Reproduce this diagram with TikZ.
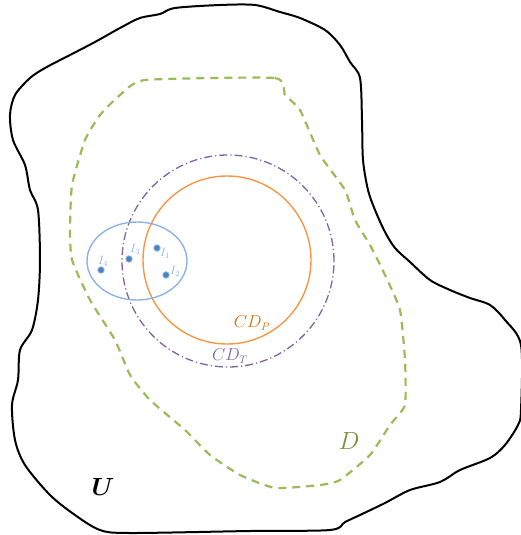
\documentclass[tikz,border=0pt]{standalone}
\usepackage{amsmath,amsbsy}
\usetikzlibrary{calc}
\definecolor{ucol}{RGB}{0,0,0}
\definecolor{dgreen}{RGB}{155,187,89}
\definecolor{dlab}{RGB}{118,146,60}
\definecolor{tpurple}{RGB}{128,100,162}
\definecolor{porange}{RGB}{247,150,70}
\definecolor{plab}{RGB}{228,108,10}
\definecolor{iblue}{RGB}{141,180,226}
\definecolor{idot}{RGB}{79,129,189}
\tikzset{
  ipt/.style={circle,fill=idot,draw=iblue,line width=0.8pt,inner sep=0pt,minimum size=6.5pt},
  ilab/.style={text=iblue,font=\fontsize{12}{12}\selectfont,inner sep=0pt},
}
\begin{document}
\begin{tikzpicture}[x=1pt,y=-1pt]
\useasboundingbox (0,0) rectangle (521,535);
% universe U
\draw[line width=2pt,ucol] plot[smooth cycle,tension=0.5] coordinates {
(175,8) (220,5) (255,5) (280,12) (300,18) (325,30) (340,45) (350,62) (360,78)
(362,120) (363,160) (368,190) (375,210) (385,232) (395,248) (410,262) (430,280)
(450,290) (470,298) (490,305) (505,320) (521,345) (521,410) (518,425) (505,445)
(490,458) (460,470) (440,482) (410,490) (385,503) (360,515) (345,522) (330,530)
(250,531) (130,533) (100,530) (75,515) (50,495) (25,465) (15,440) (12,405)
(18,380) (20,350) (32,330) (38,300) (40,260) (38,210) (30,190) (25,165)
(13,140) (10,115) (15,95) (30,78) (45,68) (70,55) (95,42) (120,28) (140,18) (160,14)};
% D
\draw[dgreen,line width=2.2pt,dash pattern=on 8pt off 6pt,line join=round] plot[smooth cycle,tension=0.3] coordinates {
(145,80) (275,78) (285,95) (300,110) (320,155) (345,190) (355,220) (370,245)
(385,275) (400,310) (405,360) (405,405) (390,425) (370,455) (340,480) (320,485)
(275,488) (240,475) (210,455) (185,430) (150,400) (130,375) (115,340) (90,300)
(72,260) (70,230) (72,185) (85,140) (100,115) (120,95)};
% CD_T
\node[draw=tpurple,line width=1.3pt,dash pattern=on 8pt off 3pt on 1.2pt off 3pt,circle,minimum size=212pt,inner sep=0pt] (cdt) at (228,261) {};
% CD_P
\node[draw=porange,line width=1.4pt,circle,minimum size=168pt,inner sep=0pt] (cdp) at (227,260) {};
% ellipse
\draw[iblue,line width=1.4pt] (137,261) ellipse [x radius=50, y radius=39];
\coordinate (ell) at (137,261);
% points
\node[ipt] (i1) at (157,248) {};
\node[ipt] (i2) at (166,275) {};
\node[ipt] (i3) at (129,259) {};
\node[ipt] (i4) at (101,270) {};
\node[ilab,anchor=west] (l1) at (160,253) {$I_1$};
\node[ilab,anchor=west] (l2) at (170,271) {$I_2$};
\node[ilab,anchor=west] (l3) at (130,249) {$I_3$};
\node[ilab,anchor=west] (l4) at (98,261) {$I_4$};
% labels
\node[text=plab,font=\fontsize{16}{16}\selectfont] (lp) at (252,323) {$CD_P$};
\node[text=tpurple,font=\fontsize{16}{16}\selectfont] (lt) at (230,356) {$CD_T$};
\node[text=dlab,font=\fontsize{34}{34}\selectfont] (ld) at (349,441) {$D$};
\node[font=\fontsize{36}{36}\selectfont] (lu) at (103,487) {$\boldsymbol{U}$};
\end{tikzpicture}
\end{document}
